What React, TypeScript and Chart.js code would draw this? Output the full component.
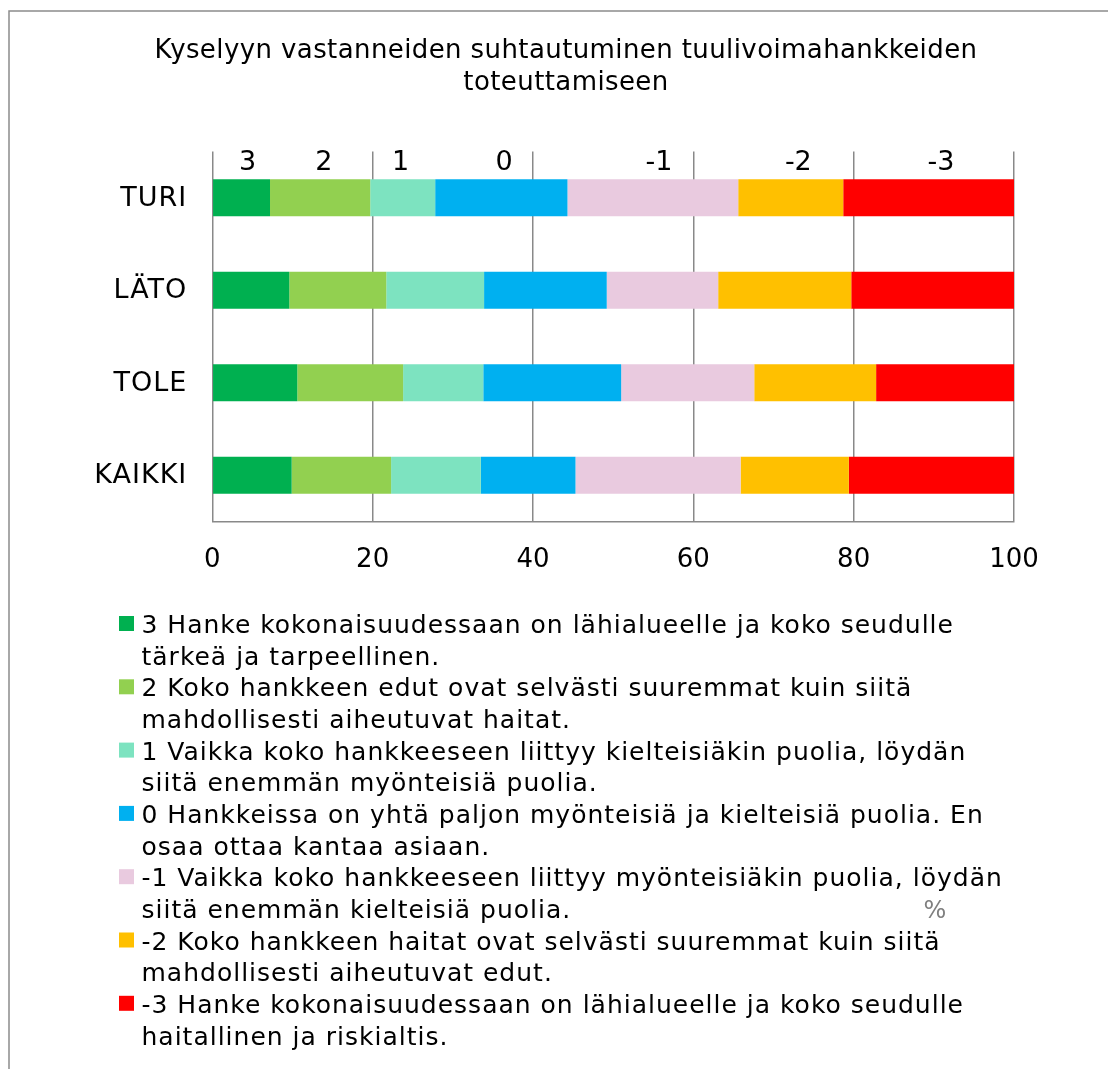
import React, { useEffect, useRef } from "react";
import { Chart, registerables } from "chart.js";

Chart.register(...registerables);

const FONT = "'DejaVu Sans', Verdana, sans-serif";

const titleLines = [
  "Kyselyyn vastanneiden suhtautuminen tuulivoimahankkeiden",
  "toteuttamiseen",
];

const categories = ["TURI", "LÄTO", "TOLE", "KAIKKI"];

// percentage shares per answer class (3 ... -3), per category
const s3 = [7.2, 9.6, 10.6, 9.9];
const s2 = [12.5, 12.1, 13.2, 12.4];
const s1 = [8.1, 12.2, 10.0, 11.2];
const s0 = [16.5, 15.3, 17.2, 11.8];
const sm1 = [21.3, 13.9, 16.6, 20.6];
const sm2 = [13.1, 16.6, 15.2, 13.5];
const sm3 = [21.3, 20.3, 17.2, 20.6];

const seriesValues = [s3, s2, s1, s0, sm1, sm2, sm3];

const seriesColors = [
  "#00B050",
  "#92D050",
  "#7DE3C0",
  "#00B0F0",
  "#E9CADF",
  "#FFC000",
  "#FF0000",
];

const seriesLabels = [
  ["3 Hanke kokonaisuudessaan on lähialueelle ja koko seudulle", "tärkeä ja tarpeellinen."],
  ["2 Koko hankkeen edut ovat selvästi suuremmat kuin siitä", "mahdollisesti aiheutuvat haitat."],
  ["1 Vaikka koko hankkeeseen liittyy kielteisiäkin puolia, löydän", "siitä enemmän myönteisiä puolia."],
  ["0 Hankkeissa on yhtä paljon myönteisiä ja kielteisiä puolia. En", "osaa ottaa kantaa asiaan."],
  ["-1 Vaikka koko hankkeeseen liittyy myönteisiäkin puolia, löydän", "siitä enemmän kielteisiä puolia."],
  ["-2 Koko hankkeen haitat ovat selvästi suuremmat kuin siitä", "mahdollisesti aiheutuvat edut."],
  ["-3 Hanke kokonaisuudessaan on lähialueelle ja koko seudulle", "haitallinen ja riskialtis."],
];

// scale labels shown above the top bar, and where (in % units) they sit
const topLabels = ["3", "2", "1", "0", "-1", "-2", "-3"];
const topLabelPos = [4.4, 13.9, 23.5, 36.4, 55.7, 73.1, 90.9];

const xTicks = [0, 20, 40, 60, 80, 100];
const unitLabel = "%";

const overlayPlugin = {
  id: "overlay",
  afterDraw(chart: any) {
    const ctx = chart.ctx as any;
    const xs = chart.scales.x;
    const ys = chart.scales.y;
    ctx.save();

    // outer frame (top and left)
    ctx.strokeStyle = "#8c8c8c";
    ctx.lineWidth = 1.5;
    ctx.beginPath();
    ctx.moveTo(1, chart.height);
    ctx.lineTo(1, 3);
    ctx.lineTo(chart.width, 3);
    ctx.stroke();

    // title
    ctx.fillStyle = "#000";
    ctx.font = `26px ${FONT}`;
    ctx.letterSpacing = "0.4px";
    ctx.textAlign = "center";
    ctx.textBaseline = "alphabetic";
    titleLines.forEach((t, i) => ctx.fillText(t, 558, 50 + i * 32));

    // category labels
    ctx.font = `27px ${FONT}`;
    ctx.letterSpacing = "1px";
    ctx.textAlign = "right";
    ctx.textBaseline = "middle";
    categories.forEach((c, i) => {
      ctx.fillText(c, xs.left - 25, ys.getPixelForValue(i) + 1);
    });

    // labels above the top bar
    ctx.letterSpacing = "0px";
    ctx.textAlign = "center";
    ctx.font = `27px ${FONT}`;
    topLabels.forEach((t, i) => {
      ctx.fillText(t, xs.getPixelForValue(topLabelPos[i]), 155);
    });

    // unit label
    ctx.fillStyle = "#7f7f7f";
    ctx.font = `24px ${FONT}`;
    ctx.fillText(unitLabel, 927, 904);

    // legend
    ctx.textAlign = "left";
    ctx.textBaseline = "alphabetic";
    ctx.font = `25px ${FONT}`;
    ctx.letterSpacing = "1px";
    seriesLabels.forEach((lines, i) => {
      const base = 625 + i * 63.3;
      ctx.fillStyle = seriesColors[i];
      ctx.fillRect(111, base - 17, 15, 15);
      ctx.fillStyle = "#000";
      lines.forEach((l, j) => ctx.fillText(l, 133.5, base + j * 31.7));
    });
    ctx.letterSpacing = "0px";

    ctx.restore();
  },
};

export default function App() {
  const ref = useRef<HTMLCanvasElement | null>(null);

  useEffect(() => {
    if (!ref.current) return;
    const chart = new Chart(ref.current, {
      type: "bar",
      data: {
        labels: categories,
        datasets: seriesValues.map((vals, i) => ({
          label: seriesLabels[i].join(" "),
          data: vals,
          backgroundColor: seriesColors[i],
          borderWidth: 0,
          barPercentage: 0.4,
          categoryPercentage: 1,
        })),
      },
      options: {
        indexAxis: "y",
        animation: false,
        responsive: false,
        events: [],
        layout: {
          padding: { left: 0, top: 143.5, right: 94, bottom: 487.5 },
        },
        plugins: {
          legend: { display: false },
          title: { display: false },
          tooltip: { enabled: false },
        },
        scales: {
          x: {
            stacked: true,
            min: 0,
            max: 100,
            afterBuildTicks: (scale: any) => {
              scale.ticks = xTicks.map((v) => ({ value: v }));
            },
            afterFit: (scale: any) => {
              scale.height = 60;
            },
            grid: {
              color: "#898989",
              lineWidth: 1.5,
              drawTicks: false,
            },
            border: { display: true, color: "#898989", width: 1.5 },
            ticks: {
              color: "#000",
              padding: 23,
              font: { family: FONT, size: 26 },
            },
          },
          y: {
            stacked: true,
            afterFit: (scale: any) => {
              scale.width = 204.3;
            },
            grid: { display: false, drawTicks: false },
            border: { display: false },
            ticks: { display: false },
          },
        },
      },
      plugins: [overlayPlugin],
    });
    return () => chart.destroy();
  }, []);

  return (
    <div style={{ width: 1100, height: 1061 }}>
      <canvas ref={ref} width={1100} height={1061} style={{ width: 1100, height: 1061, display: "block" }} />
    </div>
  );
}
